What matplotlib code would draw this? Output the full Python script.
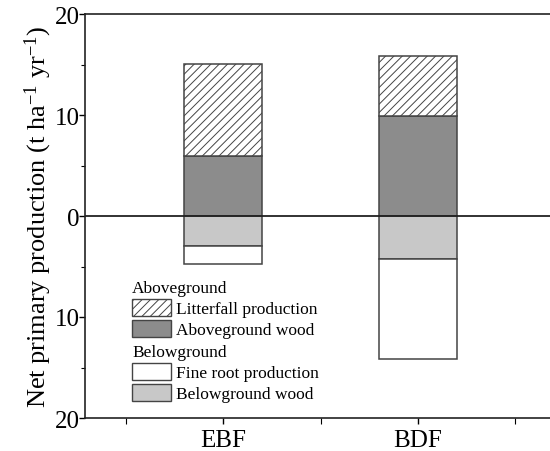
import matplotlib
matplotlib.use("Agg")
import matplotlib.pyplot as plt
from matplotlib.patches import Patch
from matplotlib.ticker import FixedLocator, FuncFormatter

plt.rcParams['font.family'] = ['Liberation Serif', 'DejaVu Serif']
plt.rcParams['mathtext.fontset'] = 'custom'
plt.rcParams['mathtext.rm'] = 'Liberation Serif'
plt.rcParams['mathtext.default'] = 'regular'
plt.rcParams['hatch.color'] = '#555555'
plt.rcParams['hatch.linewidth'] = 0.7

# data (t ha-1 yr-1)
sites = ['EBF', 'BDF']
ag_wood = [5.9, 9.9]
litterfall = [9.15, 5.9]
bg_wood = [3.0, 4.3]
fine_root = [1.75, 9.9]

x = [0, 1]
w = 0.4
edge = '#444444'

fig = plt.figure(figsize=(5.5, 4.52), dpi=100)
ax = fig.add_axes([85/550, 1-419/452, 1-85/550, (419-15)/452])

ax.bar(x, ag_wood, w, color='#8c8c8c', edgecolor=edge, linewidth=1.1)
ax.bar(x, litterfall, w, bottom=ag_wood, color='white', edgecolor=edge,
       hatch='////', linewidth=1.1)
ax.bar(x, [-v for v in bg_wood], w, color='#c8c8c8', edgecolor=edge, linewidth=1.1)
ax.bar(x, [-v for v in fine_root], w, bottom=[-v for v in bg_wood], color='white',
       edgecolor=edge, linewidth=1.1)

ax.axhline(0, color='#222222', lw=1.3)

ax.set_xlim(-0.708, 1.677)
ax.set_ylim(-20, 20)
ax.spines['right'].set_visible(False)
for s in ['left', 'top', 'bottom']:
    ax.spines[s].set_linewidth(1.2)
    ax.spines[s].set_color('#222222')

ax.set_xticks(x)
ax.set_xticklabels(sites, fontsize=18)
ax.xaxis.set_minor_locator(FixedLocator([-0.5, 0.5, 1.5]))
ax.set_yticks([-20, -10, 0, 10, 20])
ax.yaxis.set_major_formatter(FuncFormatter(lambda v, p: '%d' % abs(v)))
ax.yaxis.set_minor_locator(FixedLocator([-15, -5, 5, 15]))
ax.tick_params(axis='y', labelsize=18, length=4, width=1, pad=0, direction='out')
ax.tick_params(axis='y', which='minor', length=3, width=0.8)
ax.tick_params(axis='x', labelsize=18, length=4, width=1, pad=4, direction='out')
ax.tick_params(axis='x', which='minor', length=4, width=0.8)

ax.set_ylabel('Net primary production (t ha$^{-1}$ yr$^{-1}$)', fontsize=19, labelpad=0)

h1 = [Patch(facecolor='white', edgecolor=edge, hatch='////', label='Litterfall production'),
      Patch(facecolor='#8c8c8c', edgecolor=edge, label='Aboveground wood')]
h2 = [Patch(facecolor='white', edgecolor=edge, label='Fine root production'),
      Patch(facecolor='#c8c8c8', edgecolor=edge, label='Belowground wood')]
kw = dict(loc='upper left', frameon=False, fontsize=12.5, title_fontsize=12.5,
          alignment='left', handlelength=2.25, handleheight=1.1, handletextpad=0.3,
          labelspacing=0.17, borderpad=0, borderaxespad=0,
          bbox_transform=fig.transFigure)
leg1 = ax.legend(handles=h1, title='Aboveground',
                 bbox_to_anchor=(132/550, 1-281/452), **kw)
ax.add_artist(leg1)
leg2 = ax.legend(handles=h2, title='Belowground',
                 bbox_to_anchor=(132/550, 1-345/452), **kw)

fig.savefig('out.png', dpi=100)
